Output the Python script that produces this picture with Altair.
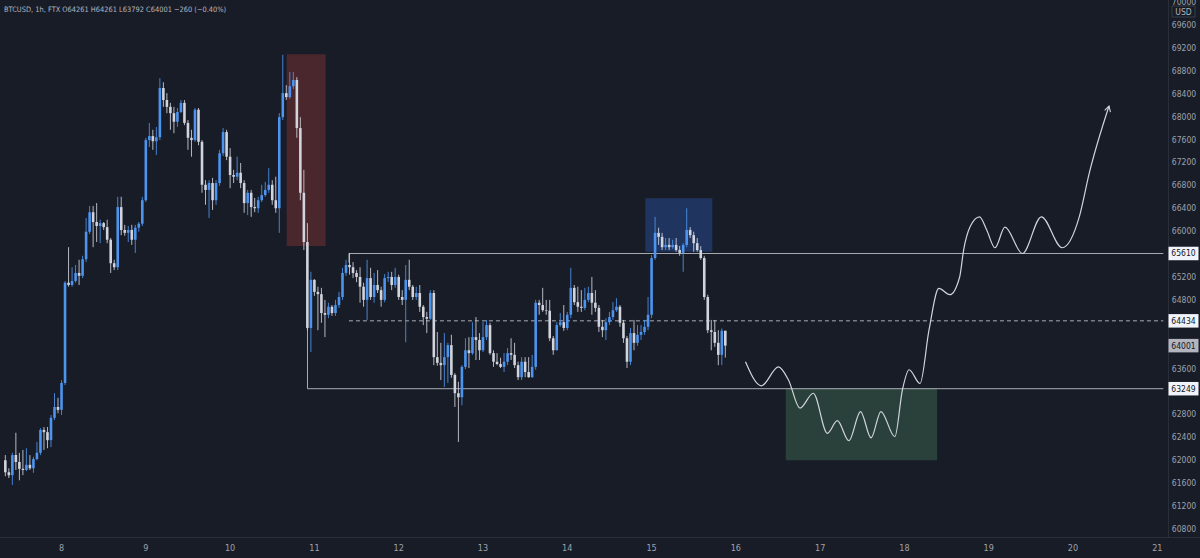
import altair as alt
import pandas as pd

# ---------------- data ----------------
first_open = 62000
start_hour = -16          # hours relative to day 8, 00:00
closes = [
    61790, 61740, 62090, 61970, 61850, 61830, 61920, 61860, 62020, 62130, 62530, 62490, 62350, 62740, 62930, 62880,
    63350, 65100, 65060, 65130, 65270, 65220, 65510, 65990, 66330, 66160, 66090, 66140, 66070, 65850, 65440, 65370, 66420, 66020, 65970, 66020, 65850, 66060, 66130, 66540,
    67590, 67660, 67570, 67640, 68500, 68290, 68170, 68060, 67910, 68080, 68240, 67890, 67630, 67590, 68120, 67560, 66810, 66720, 66840, 66540, 66840, 67360, 67730, 67300,
    66980, 66950, 67020, 66840, 66490, 66670, 66420, 66400, 66540, 66630, 66720, 66810, 66540, 66400, 67990, 68410, 68340, 68530, 68640, 67800, 66670, 65810, 64310, 65150,
    64940, 64900, 64570, 64540, 64680, 64570, 64710, 64850, 65270, 65410, 65370, 65270, 65200, 65030, 64800, 65180, 64850, 65060, 64970, 64800, 65180, 65200, 65060, 65200,
    64850, 64800, 65150, 65030, 64850, 64920, 64680, 64500, 64470, 64920, 63800, 63700, 63660, 63800, 64010, 63490, 63170, 63100, 63630, 63920, 63870, 64150, 64100, 63920,
    64150, 64360, 63870, 63720, 63680, 63630, 63720, 63870, 63840, 63660, 63450, 63720, 63540, 63450, 63630, 64750, 64710, 64620, 64610, 64130, 63920, 64360, 64410, 64310,
    64540, 65010, 64760, 64680, 64660, 64800, 64920, 64750, 64660, 64330, 64270, 64410, 64500, 64620, 64680, 64400, 64130, 63720, 64220, 64050, 64190, 64240, 64330, 64540,
    65530, 65970, 65900, 65720, 65760, 65720, 65760, 65670, 65620, 65760, 66020, 65930, 65790, 65670, 65530, 64850, 64270, 64240, 64050, 63840, 64261, 64001,
]
highs = [
    62090, 61860, 62130, 62480, 62130, 62180, 62210, 62090, 62060, 62320, 62560, 62580, 62580, 62790, 63170, 63090,
    63400, 65130, 65720, 65370, 65410, 65500, 65570, 66230, 66440, 66440, 66490, 66200, 66160, 66200, 65880, 65500, 66600, 66600, 66110, 66090, 66110, 66110, 66160, 66600,
    67630, 67890, 67770, 67820, 68670, 68600, 68410, 68240, 68170, 68150, 68290, 68290, 67940, 67770, 68150, 68150, 67590, 66890, 66890, 66930, 66890, 67420, 67800, 67770,
    67450, 67070, 67300, 67190, 66890, 66720, 66720, 66580, 66600, 66810, 66860, 67100, 66890, 66950, 68060, 69080, 68550, 68780, 68780, 68690, 67990, 67070, 66140, 65290,
    65160, 65030, 65010, 64800, 64750, 64710, 64800, 64940, 65360, 65500, 65620, 65460, 65320, 65370, 65100, 65500, 65360, 65270, 65320, 65030, 65250, 65290, 65290, 65360,
    65240, 64970, 65410, 65500, 65060, 65030, 65060, 64710, 64590, 64970, 64970, 64240, 64050, 64220, 64050, 64190, 63520, 63370, 63660, 64130, 64150, 64410, 64500, 64220,
    64410, 64450, 64400, 63920, 63870, 63790, 63870, 63960, 64130, 64050, 63720, 63800, 63800, 63800, 63840, 64800, 64800, 65010, 64800, 64800, 64170, 64410, 64570, 64710,
    64590, 65360, 65060, 65030, 64970, 65010, 65030, 65200, 64970, 64710, 64450, 64480, 64590, 64760, 64830, 64710, 64450, 64170, 64310, 64450, 64360, 64360, 64450, 64850,
    65580, 66250, 66060, 65970, 65880, 65880, 65850, 65880, 65740, 65790, 66400, 66070, 65990, 65880, 65740, 65570, 64890, 64450, 64450, 64270, 64300, 64261,
]
lows = [
    61720, 61690, 61570, 61830, 61650, 61740, 61810, 61830, 61780, 62000, 62090, 62180, 62210, 62230, 62700, 62820,
    62790, 63310, 65030, 65030, 65100, 65060, 65180, 65460, 65950, 65720, 65810, 65790, 66020, 65790, 65270, 65320, 65320, 65930, 65920, 65810, 65760, 65620, 65990, 66090,
    66510, 67470, 67420, 67330, 67590, 68170, 68060, 67770, 67710, 67820, 68060, 67850, 67420, 67300, 67560, 67500, 66670, 66460, 66230, 66370, 66460, 66790, 67310, 67240,
    66750, 66840, 66890, 66750, 66320, 66280, 66250, 66330, 66320, 66510, 66600, 66670, 66460, 66320, 65970, 67940, 68290, 68310, 68480, 67630, 66540, 65670, 64270, 63890,
    64870, 64270, 64400, 64150, 64480, 64520, 64520, 64660, 64800, 65220, 65240, 65180, 65110, 64750, 64680, 64450, 64800, 64750, 64920, 64680, 64760, 65110, 64970, 65010,
    64800, 64710, 64060, 64970, 64800, 64800, 64590, 64360, 64220, 64450, 63660, 63650, 63400, 63280, 63350, 63440, 62930, 62320, 62960, 63590, 63610, 63840, 63750, 63750,
    63890, 64100, 63840, 63630, 63660, 63610, 63540, 63660, 63750, 63610, 63400, 63400, 63450, 63440, 63440, 63580, 64540, 64590, 64540, 64080, 63840, 63920, 64330, 64260,
    64270, 64480, 64710, 64590, 64590, 64620, 64760, 64540, 64590, 64240, 64150, 64100, 64360, 64450, 64590, 64330, 64050, 63610, 63660, 63920, 64000, 64100, 64190, 64270,
    64480, 65500, 65760, 65670, 65670, 65670, 65690, 65640, 65570, 65290, 65720, 65880, 65640, 65640, 65500, 64800, 64220, 63920, 63980, 63660, 63660, 63792,
]
assert len(closes) == len(highs) == len(lows)

# drawn projection path (day, price)
path_day = [16.114, 16.302, 16.506, 16.624, 16.761, 16.918, 17.086, 17.204, 17.341, 17.479, 17.604, 17.721,
            17.886, 17.976, 18.055, 18.185, 18.291, 18.408, 18.538, 18.655, 18.702, 18.780, 18.891, 18.976,
            19.074, 19.192, 19.400, 19.624, 19.871, 20.074, 20.192, 20.427]
path_price = [63720, 63300, 63630, 63400, 62910, 63170, 62470, 62690, 62340, 62850, 62390, 62850,
              62410, 63230, 63580, 63340, 64270, 65000, 64890, 65200, 65670, 66080, 66250, 66020,
              65710, 66070, 65610, 66250, 65710, 66250, 67010, 68185]
arrow_day = [20.375, 20.427, 20.444]
arrow_price = [68110, 68185, 68080]

# zones: (x1, x2, top, bottom, colour)
zone_x1 = [10.671, 14.926, 16.592]
zone_x2 = [11.133, 15.721, 18.388]
zone_top = [69088, 66573, 63260]
zone_bot = [65741, 65641, 62000]
zone_col = ["#4a262d", "#1f3560", "#29413a"]

level_high, level_mid, level_low = 65610, 64434, 63249
last_price = 64001
right_edge_day = 21.071

price_ticks = [70000, 69600, 69200, 68800, 68400, 68000, 67600, 67200, 66800, 66400, 66000,
               65200, 64800, 63600, 62800, 62400, 62000, 61600, 61200, 60800]
day_ticks = list(range(8, 22))
header = "BTCUSD, 1h, FTX  O64261  H64261  L63792  C64001  \u2212260 (\u22120.40%)"

# ---------------- styling ----------------
BG = "#181c27"
UP = "#4d94ee"
DOWN = "#d1d4dc"
TXT = "#9ea2ab"
GRIDL = "#2a2e39"
FONT = "'Liberation Sans Narrow', 'DejaVu Sans Condensed', 'Roboto', sans-serif"

XS = alt.Scale(domain=[7.3294, 21.447], nice=False, zero=False)
YS = alt.Scale(domain=[60293, 70036], nice=False, zero=False)

hours = list(range(start_hour, start_hour + len(closes)))
opens = [first_open] + closes[:-1]
df = pd.DataFrame({"day": [8 + h / 24 for h in hours], "open": opens, "high": highs,
                   "low": lows, "close": closes})
df["dir"] = ["up" if c >= o else "down" for o, c in zip(df["open"], df["close"])]
df["hi"] = df[["high", "open", "close"]].max(axis=1)
df["lo"] = df[["low", "open", "close"]].min(axis=1)

col = alt.Color("dir:N", scale=alt.Scale(domain=["up", "down"], range=[UP, DOWN]), legend=None)

zones = pd.DataFrame({"x1": zone_x1, "x2": zone_x2, "t": zone_top, "b": zone_bot, "c": zone_col})
zone_layer = alt.Chart(zones).mark_rect().encode(
    x=alt.X("x1:Q", scale=XS, axis=None), x2="x2:Q",
    y=alt.Y("t:Q", scale=YS, axis=None), y2="b:Q",
    color=alt.Color("c:N", scale=None))

segs = pd.DataFrame({
    "x1": [11.41, 11.41, 10.918, 10.918],
    "x2": [right_edge_day, 11.41, right_edge_day, 10.918],
    "y1": [level_high, level_high, level_low, level_low],
    "y2": [level_high, 65450, level_low, 65740],
})
seg_layer = alt.Chart(segs).mark_rule(color="#a9acb5", strokeWidth=1).encode(
    x=alt.X("x1:Q", scale=XS, axis=None), x2="x2:Q",
    y=alt.Y("y1:Q", scale=YS, axis=None), y2="y2:Q")
dash = pd.DataFrame({"x1": [11.41], "x2": [right_edge_day], "y": [level_mid]})
dash_layer = alt.Chart(dash).mark_rule(color="#a9acb5", strokeWidth=1, strokeDash=[4, 3]).encode(
    x=alt.X("x1:Q", scale=XS, axis=None), x2="x2:Q", y=alt.Y("y:Q", scale=YS, axis=None))

wicks = alt.Chart(df).mark_rule(strokeWidth=1, opacity=0.85).encode(
    x=alt.X("day:Q", scale=XS, axis=None),
    y=alt.Y("lo:Q", scale=YS, axis=None), y2="hi:Q", color=col)
bodies = alt.Chart(df).mark_bar(size=2.6).encode(
    x=alt.X("day:Q", scale=XS, axis=None),
    y=alt.Y("open:Q", scale=YS, axis=None), y2="close:Q", color=col)

path = pd.DataFrame({"d": path_day, "p": path_price, "o": list(range(len(path_day)))})
path_layer = alt.Chart(path).mark_line(interpolate="monotone", color="#d1d4dc", strokeWidth=1.2).encode(
    x=alt.X("d:Q", scale=XS, axis=None), y=alt.Y("p:Q", scale=YS, axis=None), order="o:Q")
arrow = pd.DataFrame({"d": arrow_day, "p": arrow_price, "o": [0, 1, 2]})
arrow_layer = alt.Chart(arrow).mark_line(color="#d1d4dc", strokeWidth=1.1).encode(
    x=alt.X("d:Q", scale=XS, axis=None), y=alt.Y("p:Q", scale=YS, axis=None), order="o:Q")

sep_v = alt.Chart(pd.DataFrame({"a": [0]})).mark_rule(color=GRIDL, strokeWidth=1).encode(
    x=alt.value(1168.5), y=alt.value(0), y2=alt.value(537))
sep_h = alt.Chart(pd.DataFrame({"a": [0]})).mark_rule(color=GRIDL, strokeWidth=1).encode(
    x=alt.value(0), x2=alt.value(1200), y=alt.value(537.5))

ticks = pd.DataFrame({"p": price_ticks, "t": [str(v) for v in price_ticks]})
tick_layer = alt.Chart(ticks).mark_text(font=FONT, fontSize=8.5, color=TXT, align="center",
                                        baseline="middle").encode(
    x=alt.value(1184), y=alt.Y("p:Q", scale=YS, axis=None), text="t:N")

usd_box = alt.Chart(pd.DataFrame({"a": [0]})).mark_rect(fill=BG, stroke="#434651", strokeWidth=0.8).encode(
    x=alt.value(1172), x2=alt.value(1195), y=alt.value(6), y2=alt.value(17))
usd_txt = alt.Chart(pd.DataFrame({"t": ["USD"]})).mark_text(font=FONT, fontSize=8.5, color="#b2b5be",
                                                           align="center", baseline="middle").encode(
    x=alt.value(1183.5), y=alt.value(11.5), text="t:N")

labels = pd.DataFrame({
    "p": [level_high, level_mid, last_price, level_low],
    "t": [str(level_high), str(level_mid), str(last_price), str(level_low)],
    "bg": ["#f0f3fa", "#f0f3fa", "#b2b5be", "#f0f3fa"],
})
BOX = "M-1,-0.45H1V0.45H-1Z"
label_box = alt.Chart(labels).mark_point(shape=BOX, size=900, filled=True, opacity=1, strokeWidth=0).encode(
    x=alt.value(1183.5), y=alt.Y("p:Q", scale=YS, axis=None), color=alt.Color("bg:N", scale=None))
label_txt = alt.Chart(labels).mark_text(font=FONT, fontSize=8.5, color="#131722", align="center",
                                        baseline="middle").encode(
    x=alt.value(1183.5), y=alt.Y("p:Q", scale=YS, axis=None), text="t:N")

days = pd.DataFrame({"d": day_ticks, "t": [str(d) for d in day_ticks]})
day_layer = alt.Chart(days).mark_text(font=FONT, fontSize=9, color=TXT, align="center",
                                      baseline="middle").encode(
    x=alt.X("d:Q", scale=XS, axis=None), y=alt.value(548), text="t:N")

head = alt.Chart(pd.DataFrame({"t": [header]})).mark_text(font=FONT, fontSize=7.4, color="#b2b5be",
                                                          align="left", baseline="middle").encode(
    x=alt.value(4), y=alt.value(10), text="t:N")

chart = alt.layer(
    zone_layer, seg_layer, dash_layer, wicks, bodies, path_layer, arrow_layer,
    sep_v, sep_h, tick_layer, usd_box, usd_txt, label_box, label_txt, day_layer, head,
).properties(width=1200, height=558, background=BG, padding=0, autosize="none"
).configure_view(stroke=None)

chart.save("out.html", embed_options={"renderer": "svg", "actions": False})
